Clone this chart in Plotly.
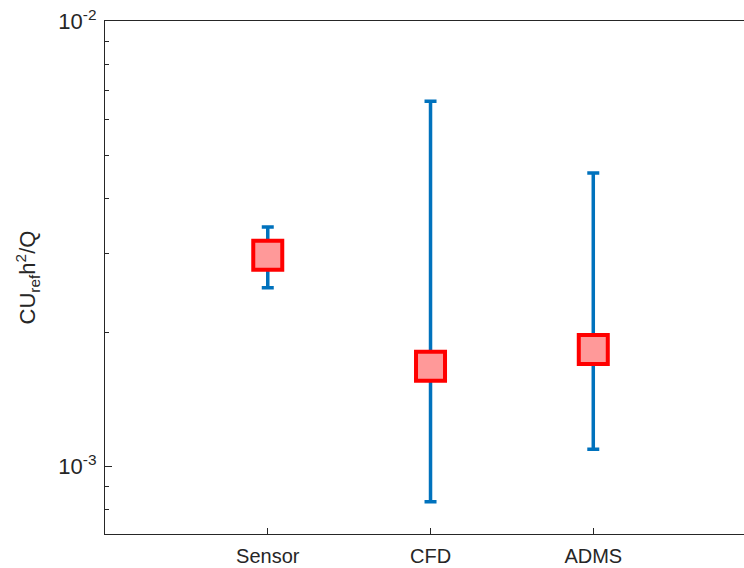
import plotly.graph_objects as go

categories = ["Sensor", "CFD", "ADMS"]
center_values = [2.98e-3, 1.68e-3, 1.83e-3]
upper_values = [3.45e-3, 6.61e-3, 4.56e-3]
lower_values = [2.52e-3, 8.34e-4, 1.094e-3]

y_major = [1e-3, 1e-2]
y_major_text = ["10<sup>-3</sup>", "10<sup>-2</sup>"]
y_minor = [m * 10.0 ** e for e in (-4, -3) for m in range(2, 10)]

err_plus = [u - c for u, c in zip(upper_values, center_values)]
err_minus = [c - l for c, l in zip(center_values, lower_values)]

ink = "#262626"
fig = go.Figure()
fig.add_trace(go.Scatter(
    x=categories, y=center_values, mode="markers",
    marker=dict(symbol="square", size=29, color="#FF9999",
                line=dict(color="#FF0000", width=4)),
    error_y=dict(type="data", symmetric=False, array=err_plus,
                 arrayminus=err_minus, color="#0072BD", thickness=3.5, width=6),
    showlegend=False, cliponaxis=False,
))

fig.update_layout(
    width=744, height=568,
    margin=dict(l=105, r=0, t=21, b=34, autoexpand=False),
    paper_bgcolor="white", plot_bgcolor="white",
    font=dict(family="Liberation Sans, Arial, sans-serif", size=20, color=ink),
)
fig.update_xaxes(
    type="category", categoryorder="array", categoryarray=categories,
    range=[-1, 2.926], showline=True, linecolor=ink, linewidth=1.2,
    mirror=True, ticks="inside", ticklen=6, tickcolor=ink,
    showgrid=False, zeroline=False, automargin=False,
    tickfont=dict(size=20, color=ink), ticklabelstandoff=4,
)
fig.update_yaxes(
    type="log", range=[-3.1515, -1.9999], showline=True, linecolor=ink,
    linewidth=1.2, mirror=False, ticks="inside", ticklen=7, tickcolor=ink,
    tickvals=y_major, ticktext=y_major_text, showgrid=False,
    zeroline=False, automargin=False, tickfont=dict(size=22, color=ink),
    ticklabelstandoff=3,
    minor=dict(ticks="inside", ticklen=4, tickcolor=ink,
               tickmode="array", tickvals=y_minor, showgrid=False),
    title=dict(text="CU<sub>ref</sub>h<sup>2</sup>/Q",
               font=dict(size=22, color=ink), standoff=16),
)

fig.write_html(
    "out.html",
    config={"displayModeBar": False},
    post_script="document.body.style.margin='0';document.body.style.overflow='hidden';",
)
